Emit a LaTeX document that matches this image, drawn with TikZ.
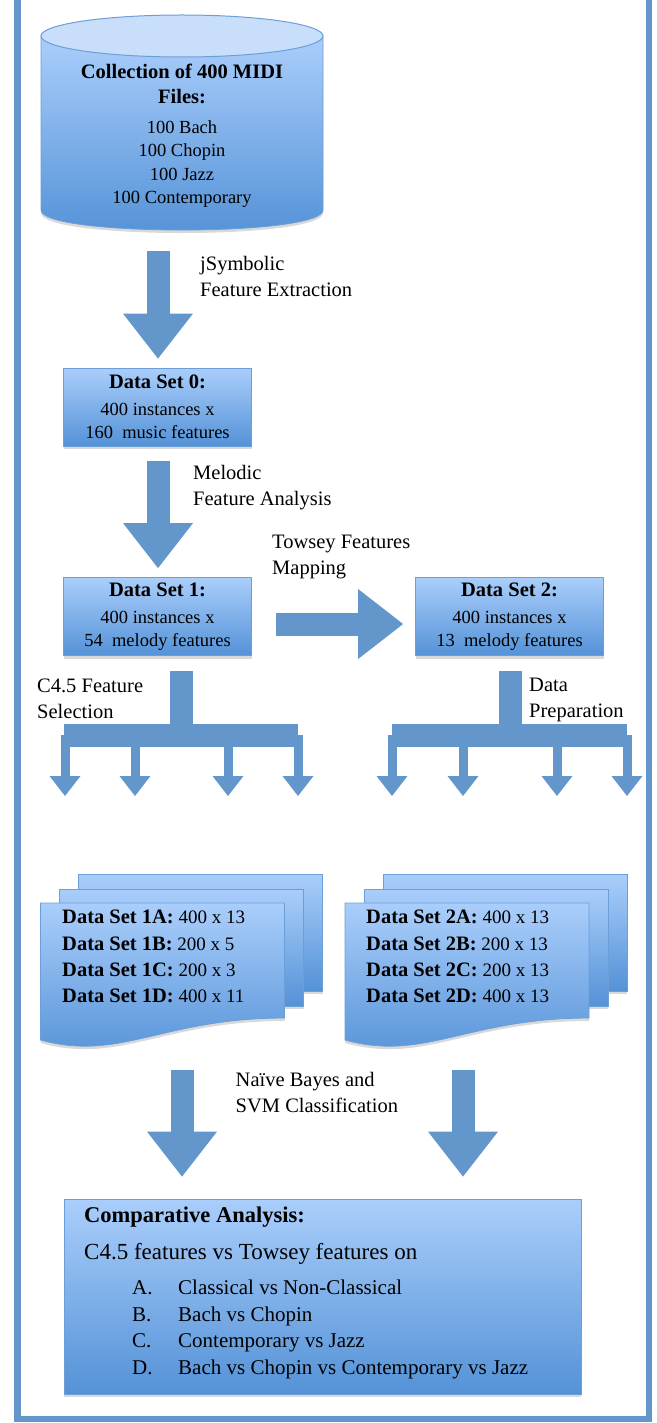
\documentclass[tikz,border=0pt]{standalone}
\usepackage{fontspec}
\setmainfont{Liberation Serif}
\usetikzlibrary{arrows.meta, shadows}

\definecolor{flowblue}{RGB}{99,150,202}
\definecolor{boxtop}{RGB}{170,206,251}
\definecolor{boxbot}{RGB}{84,146,215}
\definecolor{boxline}{RGB}{108,158,216}
\definecolor{lidblue}{RGB}{200,222,250}

\newcommand{\titlefont}{\bfseries\fontsize{20.5}{23.5}\selectfont}
\newcommand{\boxfont}{\fontsize{18.5}{23.5}\selectfont}
\newcommand{\notefont}{\fontsize{20.5}{26}\selectfont}
\newcommand{\listfont}{\fontsize{19}{26.3}\selectfont}

\tikzset{
  softshadow/.style={drop shadow={shadow xshift=0pt, shadow yshift=-3pt, opacity=0.3}},
  databox/.style={top color=boxtop, bottom color=boxbot, draw=boxline, line width=0.8pt,
    minimum width=188pt, minimum height=78pt, align=center, font=\boxfont, softshadow},
  sheet/.style={top color=boxtop, bottom color=boxbot, draw=boxline, line width=0.8pt, softshadow},
  note/.style={font=\notefont, align=left, inner sep=0pt, anchor=north west},
  fatarrow/.style={draw=flowblue, line width=23pt, -{Triangle[length=45pt, width=70pt, line width=0pt]}},
  droparrow/.style={draw=flowblue, line width=9pt, -{Triangle[length=20pt, width=31pt, line width=0pt]}},
  frame/.style={draw=flowblue, line width=6.5pt, line join=miter}
}

% three stacked sheets, front one with a wavy bottom
\newcommand{\docstack}[1]{%
  \shade[sheet] (#1+38,874) rectangle (#1+282,991);
  \shade[sheet] (#1+19,889) rectangle (#1+263,1006);
  \shade[sheet] (#1,903) -- (#1+244,903) -- (#1+244,1018)
    .. controls (#1+122,1018) and (#1+80,1062) .. (#1,1040) -- cycle;
}

\begin{document}
\begin{tikzpicture}[x=1pt, y=-1pt]
\useasboundingbox (0,0) rectangle (656,1423);
\draw[frame] (17.5,0) -- (17.5,1419) -- (649,1419) -- (649,0);

% MIDI collection drum
\shade[top color=boxtop, bottom color=boxbot, draw=boxline, line width=0.8pt, softshadow]
  (41,36) -- (41,210) .. controls (41,236.7) and (323,236.7) .. (323,210) -- (323,36) -- cycle;
\filldraw[fill=lidblue, draw=boxline, line width=1pt] (182,36) ellipse [x radius=141, y radius=21];
\node[align=center, inner sep=0pt, font=\boxfont] (midi) at (182,136)
  {{\titlefont Collection of 400 MIDI}\\[1.5pt] {\titlefont Files:}\\[6.5pt]
   100 Bach\\ 100 Chopin\\ 100 Jazz\\ 100 Contemporary};

% data sets
\node[databox] (ds0) at (157.5,407) {{\titlefont Data Set 0:}\\[3.5pt] 400 instances x\\ 160\ \ music features};
\node[databox] (ds1) at (157.5,616.5) {{\titlefont Data Set 1:}\\[3.5pt] 400 instances x\\ 54\ \ melody features};
\node[databox] (ds2) at (509.5,616.5) {{\titlefont Data Set 2:}\\[3.5pt] 400 instances x\\ 13\ \ melody features};

\coordinate (j) at (158,251);
\draw[fatarrow, shorten >=9pt] (j) -- (j |- ds0.north);
\node[note] (jsym) at (200,256) {jSymbolic\\Feature Extraction};

\coordinate (m) at (158,461);
\draw[fatarrow, shorten >=9pt] (m) -- (m |- ds1.north);
\node[note] (melodic) at (193,465) {Melodic\\Feature Analysis};

\draw[fatarrow, shorten <=24pt, shorten >=12pt] ([yshift=-7.5pt]ds1.east) -- ([yshift=-7.5pt]ds2.west);
\node[note] (towsey) at (272,535) {Towsey Features\\Mapping};

% splitting into four subsets
\fill[flowblue] (170,671) rectangle (193,735);
\fill[flowblue] (64,724) rectangle (298,747);
\foreach \x in {65,135,228,298}
  \draw[droparrow] (\x,735) -- (\x,796);
\node[note] (c45) at (37,679) {C4.5 Feature\\Selection};

\fill[flowblue] (498.5,671) rectangle (521.5,735);
\fill[flowblue] (392,724) rectangle (627,747);
\foreach \x in {392,463,557,627}
  \draw[droparrow] (\x,735) -- (\x,796);
\node[note] (prep) at (529,678) {Data\\Preparation};

% subsets
\docstack{40.5}
\docstack{345}
\node[align=left, inner sep=0pt, anchor=north west, font=\listfont] (set1) at (62,910)
  {{\titlefont Data Set 1A:} 400 x 13\\ {\titlefont Data Set 1B:} 200 x 5\\
   {\titlefont Data Set 1C:} 200 x 3\\ {\titlefont Data Set 1D:} 400 x 11};
\node[align=left, inner sep=0pt, anchor=north west, font=\listfont] (set2) at (366,910)
  {{\titlefont Data Set 2A:} 400 x 13\\ {\titlefont Data Set 2B:} 200 x 13\\
   {\titlefont Data Set 2C:} 200 x 13\\ {\titlefont Data Set 2D:} 400 x 13};

% classification and comparison
\node[databox, minimum width=517pt, minimum height=195pt] (cmp) at (322.5,1296.5) {};
\coordinate (n1) at (182,1070);
\coordinate (n2) at (463,1070);
\draw[fatarrow, shorten >=22pt] (n1) -- (n1 |- cmp.north);
\draw[fatarrow, shorten >=22pt] (n2) -- (n2 |- cmp.north);
\node[note] (bayes) at (235.5,1072) {Naïve Bayes and\\SVM Classification};

\node[note, font=\fontsize{21}{26.5}\selectfont] (cmptext) at (84,1207)
  {{\bfseries\fontsize{22.5}{26.5}\selectfont Comparative Analysis:}\\[10.5pt]
   {\fontsize{23}{26.5}\selectfont C4.5 features vs Towsey features on}\\[8.5pt]
   \hspace*{48pt}\makebox[46pt][l]{A.}Classical vs Non-Classical\\
   \hspace*{48pt}\makebox[46pt][l]{B.}Bach vs Chopin\\
   \hspace*{48pt}\makebox[46pt][l]{C.}Contemporary vs Jazz\\
   \hspace*{48pt}\makebox[46pt][l]{D.}Bach vs Chopin vs Contemporary vs Jazz};
\end{tikzpicture}
\end{document}
